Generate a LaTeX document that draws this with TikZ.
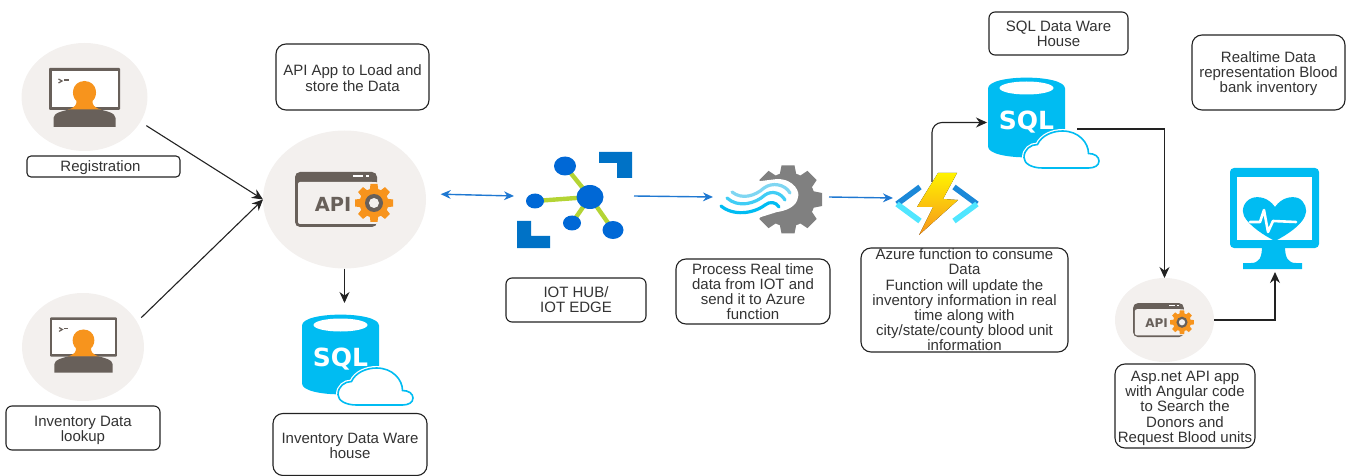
\documentclass[tikz,border=0pt]{standalone}
\usepackage{fontspec}
\setmainfont{Liberation Sans}
\newfontfamily\iconfont{DejaVu Sans}
\usetikzlibrary{arrows.meta,shapes.geometric}
\definecolor{halo}{HTML}{F3F0EE}
\definecolor{slate}{HTML}{68605A}
\definecolor{amber}{HTML}{F7941D}
\definecolor{azurec}{HTML}{00BCF2}
\definecolor{iotblue}{HTML}{0068D6}
\definecolor{iotdark}{HTML}{0072C6}
\definecolor{iotlime}{HTML}{B4D434}
\definecolor{linkblue}{HTML}{1F78D1}
\definecolor{funcdark}{HTML}{1B88D8}
\definecolor{funclight}{HTML}{50E6FF}
\definecolor{wave}{HTML}{7FD6F2}
\definecolor{inkc}{HTML}{222222}
\definecolor{textc}{HTML}{333333}
\def\pxu{0.5pt}
\newcommand\lowtext[1]{\rule{0pt}{#1pt}}
\tikzset{
  tbox/.style={draw=inkc,line width=0.55pt,rounded corners=5pt,fill=white,align=center,inner sep=0pt,outer sep=0pt,text=textc,font=\fontsize{7.5}{7.6}\selectfont},
  haloell/.style={ellipse,fill=halo,inner sep=0pt,outer sep=0pt},
  ghost/.style={inner sep=0pt,outer sep=0pt},
  blk/.style={-{Stealth[length=5.5pt,width=5pt]},draw=inkc,line width=0.55pt},
  blu/.style={-{Stealth[length=5pt,width=4.4pt]},draw=linkblue,line width=0.7pt},
  personicon/.pic={
    \fill[slate,rounded corners=0.5pt] (-35.5,-21) rectangle (35.5,21);
    \fill[white] (-33,-18) rectangle (33,18);
    \draw[slate,line width=0.6pt] (-26,-10) -- (-22.5,-8) -- (-26,-6);
    \draw[slate,line width=0.6pt] (-20.5,-9) -- (-16,-9);
    \fill[amber] (-17,21) .. controls (-9,18) and (-8,16) .. (-8,12) .. controls (-14,7) and (-13,-7.5) .. (0,-8) .. controls (13,-7.5) and (14,7) .. (8,12) .. controls (8,16) and (9,18) .. (17,21) -- cycle;
    \fill[slate] (-31,38) -- (-31,29) .. controls (-31,24) and (-22,22) .. (-15,20.5) -- (15,20.5) .. controls (22,22) and (31,24) .. (31,29) -- (31,38) -- cycle;
  },
  apiicon/.pic={
    \fill[slate,rounded corners=2.5pt] (-49,-28) rectangle (33,27);
    \fill[halo,rounded corners=1pt] (-46,-18) rectangle (30,24);
    \fill[white] (9,-24.5) rectangle (19,-22.5);
    \fill[white] (22,-24.5) rectangle (25,-22.5);
    \node[ghost,transform shape,text=slate,font=\iconfont\bfseries\fontsize{9.7}{9.7}\selectfont] at (-11,4) {API};
    \fill[halo] (30,3) circle (21);
    \foreach \a in {0,45,...,315}
      \fill[amber,shift={(30,3)},rotate=\a] (-3.5,-19) -- (3.5,-19) -- (4.5,-11) -- (-4.5,-11) -- cycle;
    \fill[amber] (30,3) circle (14.5);
    \fill[slate] (30,3) circle (9);
    \fill[halo] (30,3) circle (5);
  },
  sqlicon/.pic={
    \fill[azurec] (-38.5,-29) .. controls (-38.5,-43.5) and (38.5,-43.5) .. (38.5,-29) -- (38.5,29) .. controls (38.5,43.5) and (-38.5,43.5) .. (-38.5,29) -- cycle;
    \fill[white] (0,-29.5) ellipse (27 and 6.5);
    \node[ghost,text=white,font=\iconfont\bfseries\fontsize{12.5}{12.5}\selectfont] at (0,5) {SQL};
    \path[fill=white,draw=white,line width=2pt] (16,50.5) .. controls (5,50.5) and (-2.5,46) .. (-2.5,40) .. controls (-2.5,32) and (4,27) .. (11,27) .. controls (15,18) and (26,13.5) .. (36,13.5) .. controls (52,13.5) and (62,25) .. (62,36) .. controls (68,36) and (72.5,39) .. (72.5,43.5) .. controls (72.5,48) and (68,50.5) .. (62,50.5) -- cycle;
    \path[draw=azurec,line width=0.8pt] (16,50.5) .. controls (5,50.5) and (-2.5,46) .. (-2.5,40) .. controls (-2.5,32) and (4,27) .. (11,27) .. controls (15,18) and (26,13.5) .. (36,13.5) .. controls (52,13.5) and (62,25) .. (62,36) .. controls (68,36) and (72.5,39) .. (72.5,43.5) .. controls (72.5,48) and (68,50.5) .. (62,50.5) -- cycle;
  },
}
\begin{document}
\begin{tikzpicture}[x=\pxu,y=-\pxu]
\useasboundingbox (0,0) rectangle (1356,476);

% discs
\node[haloell,minimum width=126*\pxu,minimum height=108*\pxu] (userA) at (84.5,97) {};
\node[haloell,minimum width=122*\pxu,minimum height=108*\pxu] (userB) at (83,347) {};
\node[haloell,minimum width=163*\pxu,minimum height=138*\pxu] (apiBig) at (344.5,199.5) {};
\node[haloell,minimum width=99*\pxu,minimum height=84*\pxu] (apiSmall) at (1164.5,320) {};

% icons on the discs
\pic at (84.5,89) {personicon};
\pic[scale=0.94] at (83.5,337) {personicon};
\pic at (344,200) {apiicon};
\pic[scale=0.62] at (1163.4,320.4) {apiicon};

% SQL icons
\pic at (1026.5,117.5) {sqlicon};
\pic at (340.5,354.5) {sqlicon};

% IoT hub icon
\node[ghost,minimum width=120*\pxu,minimum height=100*\pxu] (iot) at (574,196) {};
\fill[iotdark] (599,152) -- (632,152) -- (632,178) -- (617,178) -- (617,163) -- (599,163) -- cycle;
\fill[iotdark] (517,221) -- (531,221) -- (531,236) -- (550,236) -- (550,248) -- (517,248) -- cycle;
\draw[iotlime,line width=2.2pt] (590,197) -- (565,166) (590,197) -- (535,201) (590,197) -- (572,223) (590,197) -- (613,230);
\fill[iotblue] (590,197) ellipse (13.5 and 12);
\fill[iotblue] (565,166) ellipse (11 and 9.5);
\fill[iotblue] (535,201) ellipse (9 and 7.5);
\fill[iotblue] (572,223) ellipse (9 and 7.5);
\fill[iotblue] (613,230) ellipse (10.5 and 9);

% stream analytics icon
\node[ghost,minimum width=116*\pxu,minimum height=70*\pxu] (stream) at (771,197) {};
\foreach \a in {0,45,...,315}
  \fill[black!50,shift={(788,199.5)},rotate=\a] (-6.5,-34) -- (6.5,-34) -- (8.5,-24) -- (-8.5,-24) -- cycle;
\fill[black!50] (788,199.5) circle (27);
\fill[white] (745,183) -- (777,179) .. controls (795,179) and (800,193) .. (798,197) .. controls (797,207) and (785,211) .. (777,212) -- (745,222) -- cycle;
\draw[wave,line width=1.6pt,line cap=round] (732,192) .. controls (742,200) and (755,196) .. (764,188) .. controls (772,182) and (785,184) .. (790,193);
\draw[azurec!75,line width=1.6pt,line cap=round] (727,198) .. controls (738,208) and (755,204) .. (765,195) .. controls (772,190) and (781,193) .. (785,200);
\draw[azurec,line width=1.6pt,line cap=round] (721,206) .. controls (733,216) and (753,214) .. (765,205) .. controls (770,201) and (776,202) .. (779,207);

% azure function icon
\node[ghost,minimum width=78*\pxu,minimum height=32*\pxu] (func) at (932,198) {};
\draw[line width=2.8pt,draw=funcdark] (920,187) -- (897,204) (954,187) -- (977,204);
\draw[line width=2.8pt,draw=funclight] (897,204) -- (920,221) (977,204) -- (954,221);

% heart monitor icon
\node[ghost,minimum width=89*\pxu,minimum height=104*\pxu] (heart) at (1275,220) {};
\fill[azurec,rounded corners=2pt] (1230,168) rectangle (1319,248);
\fill[white] (1237,177) rectangle (1312,240);
\fill[azurec] (1262,246) -- (1285,246) .. controls (1285,258) and (1288,263) .. (1296,263) -- (1302,263) -- (1302,269) -- (1243,269) -- (1243,263) -- (1251,263) .. controls (1259,263) and (1262,258) .. (1262,246) -- cycle;
\fill[azurec] (1275,207) .. controls (1268,197) and (1258,196) .. (1252,198) .. controls (1244,201) and (1241,210) .. (1244,216) .. controls (1249,226) and (1265,236) .. (1275,241) .. controls (1285,236) and (1301,226) .. (1305,216) .. controls (1308,210) and (1305,201) .. (1298,198) .. controls (1292,196) and (1282,197) .. (1275,207) -- cycle;
\draw[white,line width=1.3pt,line cap=round,line join=round] (1250,222) -- (1260,222) -- (1264,210) -- (1268,232) -- (1273,221) -- (1296,222);

% text boxes
\node[tbox,rounded corners=2pt,minimum width=153*\pxu,minimum height=21*\pxu] (tReg) at (103.5,166.5) {\lowtext{6.5}\hspace*{-3pt}Registration};
\node[tbox,minimum width=153*\pxu,minimum height=66*\pxu] (tApi) at (352.5,77) {\lowtext{6.5}API App to Load and\\store the Data};
\node[tbox,rounded corners=3pt,minimum width=154*\pxu,minimum height=44*\pxu] (tLookup) at (83,428) {\lowtext{7.5}Inventory Data\\lookup};
\node[tbox,minimum width=154*\pxu,minimum height=62*\pxu] (tWare) at (350,444.5) {\lowtext{6.5}Inventory Data Ware\\house};
\node[tbox,rounded corners=3pt,minimum width=140*\pxu,minimum height=44*\pxu] (tIot) at (576,300) {IOT HUB/\\IOT EDGE};
\node[tbox,minimum width=154*\pxu,minimum height=65*\pxu] (tProc) at (753,291.5) {Process Real time\\data from IOT and\\send it to Azure\\function};
\node[tbox,minimum width=207*\pxu,minimum height=104*\pxu] (tFunc) at (964.5,300) {Azure function to consume\\Data\\Function will update the\\inventory information in real\\time along with\\city/state/county blood unit\\information};
\node[tbox,rounded corners=3pt,minimum width=139*\pxu,minimum height=43*\pxu] (tDw) at (1058.5,33.5) {SQL Data Ware\\House};
\node[tbox,minimum width=153*\pxu,minimum height=75*\pxu] (tReal) at (1268.5,72.5) {\lowtext{6.5}Realtime Data\\representation Blood\\bank inventory};
\node[tbox,minimum width=140*\pxu,minimum height=84*\pxu] (tAsp) at (1185,406) {\lowtext{7.5}Asp.net API app\\with Angular code\\to Search the\\Donors and\\Request Blood units};

% connector anchors
\node[ghost,minimum width=79*\pxu,minimum height=40*\pxu] (sqlTop) at (1026.5,122.5) {};
\node[ghost,minimum width=70*\pxu,minimum height=104*\pxu] (sqlInv) at (344.5,355) {};
\coordinate (sqlOut) at (1077,129);

% connectors
\draw[blk,shorten <=3.5pt] (userA.-24) -- (apiBig.west);
\draw[blk,shorten <=3pt] (userB.25) -- (apiBig.west);
\draw[blk] (apiBig.south) -- (sqlInv.north);
\draw[blu,{Stealth[length=5pt,width=4.4pt]}-{Stealth[length=5pt,width=4.4pt]},shorten <=7.5pt] (apiBig.4) -- (iot.west);
\draw[blu] (iot.east) -- (stream.west);
\draw[blu] (stream.east) -- (func.west);
\draw[blk,rounded corners=5pt] (func.north) |- (sqlTop.west);
\draw[blk] (sqlOut) -| (apiSmall.north);
\draw[blk] (apiSmall.east) -| (heart.south);

% lightning bolt over the connector end
\fill[top color=yellow!90!orange,bottom color=amber] (938,173) -- (957,173) -- (943,199) -- (958,200) -- (919,235) -- (933,207) -- (917,207) -- cycle;
\end{tikzpicture}
\end{document}
